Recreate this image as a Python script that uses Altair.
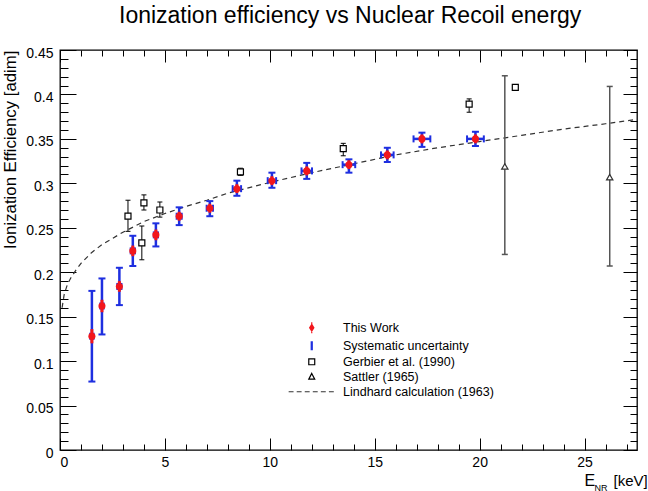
import altair as alt
import pandas as pd

# ---------------- data ----------------
# This Work
tw_energy = [1.52, 2.0, 2.83, 3.47, 4.57, 5.68, 7.14, 8.43, 10.1, 11.76, 13.77, 15.6, 17.25, 19.8]
tw_eff = [0.128, 0.162, 0.184, 0.224, 0.242, 0.263, 0.272, 0.294, 0.303, 0.314, 0.321, 0.332, 0.350, 0.350]
tw_sys_lo = [0.077, 0.130, 0.163, 0.207, 0.229, 0.253, 0.263, 0.286, 0.295, 0.305, 0.312, 0.324, 0.341, 0.342]
tw_sys_hi = [0.179, 0.193, 0.205, 0.241, 0.255, 0.273, 0.280, 0.303, 0.312, 0.323, 0.327, 0.340, 0.357, 0.358]
tw_e_err = [0.08, 0.08, 0.1, 0.1, 0.1, 0.12, 0.15, 0.2, 0.2, 0.25, 0.3, 0.3, 0.4, 0.4]
tw_stat_err = [0.008, 0.007, 0.006, 0.006, 0.006, 0.005, 0.005, 0.005, 0.005, 0.005, 0.005, 0.005, 0.005, 0.005]

# Gerbier et al. (1990)
g_energy = [3.24, 3.9, 4.0, 4.76, 8.6, 13.5, 19.5, 21.7]
g_eff = [0.263, 0.233, 0.278, 0.270, 0.313, 0.339, 0.389, 0.408]
g_lo = [0.246, 0.214, 0.270, 0.262, 0.309, 0.331, 0.380, 0.405]
g_hi = [0.281, 0.252, 0.287, 0.279, 0.317, 0.345, 0.395, 0.411]

# Sattler (1965)
s_energy = [21.2, 26.2]
s_eff = [0.319, 0.307]
s_lo = [0.220, 0.207]
s_hi = [0.421, 0.409]

# Lindhard calculation (1963)
l_energy = [0.1, 0.2, 0.35, 0.5, 0.75, 1.0, 1.5, 2.0, 2.5, 3.0, 4.0, 5.0, 6.0, 7.0, 8.0,
            10.0, 12.0, 14.0, 16.0, 18.0, 20.0, 22.0, 24.0, 26.0, 27.5]
l_eff = [0.160, 0.175, 0.186, 0.193, 0.202, 0.210, 0.222, 0.231, 0.238, 0.245, 0.257, 0.266,
         0.274, 0.281, 0.289, 0.301, 0.312, 0.322, 0.332, 0.340, 0.347, 0.354, 0.361, 0.367, 0.372]

legend_labels = ["This Work", "Systematic uncertainty", "Gerbier et al. (1990)",
                 "Sattler (1965)", "Lindhard calculation (1963)"]

x_major = [0, 5, 10, 15, 20, 25]
x_minor = [v for v in range(0, 28) if v % 5 != 0]
y_major = [0, 0.05, 0.1, 0.15, 0.2, 0.25, 0.3, 0.35, 0.4, 0.45]
y_minor = [round(i * 0.01, 2) for i in range(0, 46) if i % 5 != 0]

# ---------------- tables ----------------
tw = pd.DataFrame({
    "e": tw_energy, "eff": tw_eff, "lo": tw_sys_lo, "hi": tw_sys_hi,
    "elo": [a - b for a, b in zip(tw_energy, tw_e_err)],
    "ehi": [a + b for a, b in zip(tw_energy, tw_e_err)],
    "slo": [a - b for a, b in zip(tw_eff, tw_stat_err)],
    "shi": [a + b for a, b in zip(tw_eff, tw_stat_err)],
})
gb = pd.DataFrame({"e": g_energy, "eff": g_eff, "lo": g_lo, "hi": g_hi})
st = pd.DataFrame({"e": s_energy, "eff": s_eff, "lo": s_lo, "hi": s_hi})
ld = pd.DataFrame({"e": l_energy, "eff": l_eff})
lg = pd.DataFrame({"series": legend_labels, "x": [None] * 5, "y": [None] * 5})

FONT = "Liberation Sans"
RED = "#f2161c"
BLUE = "#1e2fe0"
W, H = 577, 400

xs = alt.Scale(domain=[0, 27.5], nice=False, zero=False)
ys = alt.Scale(domain=[0, 0.45], nice=False, zero=False)


def tick_axis(orient, values, size, offset, **kw):
    return alt.Axis(orient=orient, values=values, tickSize=size, offset=offset,
                    labels=False, domain=False, grid=False, tickColor="black",
                    tickWidth=1, **kw)


x_lab_axis = alt.Axis(orient="bottom", values=x_major, format="d", ticks=False, domain=False,
                      grid=False, labelFont=FONT, labelFontSize=14, labelColor="black",
                      labelPadding=5, title="E", titleFont=FONT, titleFontSize=16,
                      titleFontWeight="normal", titleColor="black", titleX=524, titleY=35,
                      titleAlign="left", titleBaseline="alphabetic")
y_lab_axis = alt.Axis(orient="left", values=y_major, format="~g", ticks=False, domain=False,
                      grid=False, labelFont=FONT, labelFontSize=14, labelColor="black",
                      labelPadding=7, labelOffset=3, title="Ionization Efficiency [adim]",
                      titleFont=FONT, titleFontSize=16.8, titleFontWeight="normal",
                      titleColor="black", titleX=-45, titleY=0, titleAngle=-90,
                      titleAlign="right", titleBaseline="alphabetic")

ax_b_major = tick_axis("bottom", x_major, 12, -12, title="NR", titleFont=FONT, titleFontSize=9,
                       titleFontWeight="normal", titleColor="black", titleX=534, titleY=52,
                       titleAlign="left", titleBaseline="alphabetic")
ax_b_minor = tick_axis("bottom", x_minor, 6, -6, title="[keV]", titleFont=FONT, titleFontSize=15,
                       titleFontWeight="normal", titleColor="black", titleX=553, titleY=41,
                       titleAlign="left", titleBaseline="alphabetic")
ax_t_major = tick_axis("top", x_major, 12, -12, title=None)
ax_t_minor = tick_axis("top", x_minor, 6, -6, title=None)
ax_l_major = tick_axis("left", y_major, 16, -16, title=None)
ax_l_minor = tick_axis("left", y_minor, 8, -8, title=None)
ax_r_major = tick_axis("right", y_major, 14, -14, title=None)
ax_r_minor = tick_axis("right", y_minor, 7, -7, title=None)

# Lindhard curve (hosts label axes)
lind = alt.Chart(ld).mark_line(strokeDash=[5, 4], color="#333333", strokeWidth=1.2).encode(
    x=alt.X("e:Q", scale=xs, axis=x_lab_axis),
    y=alt.Y("eff:Q", scale=ys, axis=y_lab_axis),
)

# This Work: systematic vertical bars
sys_v = alt.Chart(tw).mark_rule(color=BLUE, strokeWidth=2.5).encode(
    x=alt.X("e:Q", scale=xs, axis=ax_b_major),
    y=alt.Y("lo:Q", scale=ys, axis=ax_l_major),
    y2="hi:Q",
)
cap_top = alt.Chart(tw).mark_tick(orient="horizontal", size=7, thickness=2, color=BLUE, opacity=1).encode(
    x=alt.X("e:Q", scale=xs, axis=ax_b_minor),
    y=alt.Y("hi:Q", scale=ys, axis=ax_l_minor),
)
cap_bot = alt.Chart(tw).mark_tick(orient="horizontal", size=7, thickness=2, color=BLUE, opacity=1).encode(
    x=alt.X("e:Q", scale=xs, axis=ax_t_major),
    y=alt.Y("lo:Q", scale=ys, axis=ax_r_major),
)
sys_h = alt.Chart(tw).mark_rule(color=BLUE, strokeWidth=2.5).encode(
    x=alt.X("elo:Q", scale=xs, axis=ax_t_minor),
    x2="ehi:Q",
    y=alt.Y("eff:Q", scale=ys, axis=ax_r_minor),
)
cap_l = alt.Chart(tw).mark_tick(orient="vertical", size=7, thickness=2, color=BLUE, opacity=1).encode(
    x=alt.X("elo:Q", scale=xs, axis=None),
    y=alt.Y("eff:Q", scale=ys, axis=None),
)
cap_r = alt.Chart(tw).mark_tick(orient="vertical", size=7, thickness=2, color=BLUE, opacity=1).encode(
    x=alt.X("ehi:Q", scale=xs, axis=None),
    y=alt.Y("eff:Q", scale=ys, axis=None),
)
stat_v = alt.Chart(tw).mark_rule(color=RED, strokeWidth=3).encode(
    x=alt.X("e:Q", scale=xs, axis=None),
    y=alt.Y("slo:Q", scale=ys, axis=None),
    y2="shi:Q",
)
tw_pts = alt.Chart(tw).mark_point(shape="circle", filled=True, size=50, color=RED, opacity=1).encode(
    x=alt.X("e:Q", scale=xs, axis=None),
    y=alt.Y("eff:Q", scale=ys, axis=None),
)

# Gerbier
g_bar = alt.Chart(gb).mark_rule(color="black", strokeWidth=1).encode(
    x=alt.X("e:Q", scale=xs, axis=None), y=alt.Y("lo:Q", scale=ys, axis=None), y2="hi:Q")
g_cap1 = alt.Chart(gb).mark_tick(orient="horizontal", size=5, thickness=1, color="black", opacity=1).encode(
    x=alt.X("e:Q", scale=xs, axis=None), y=alt.Y("lo:Q", scale=ys, axis=None))
g_cap2 = alt.Chart(gb).mark_tick(orient="horizontal", size=5, thickness=1, color="black", opacity=1).encode(
    x=alt.X("e:Q", scale=xs, axis=None), y=alt.Y("hi:Q", scale=ys, axis=None))
g_pts = alt.Chart(gb).mark_point(shape="square", filled=True, size=36, fill="white", stroke="black",
                                 strokeWidth=1.2, opacity=1).encode(
    x=alt.X("e:Q", scale=xs, axis=None), y=alt.Y("eff:Q", scale=ys, axis=None))

# Sattler
s_bar = alt.Chart(st).mark_rule(color="#555555", strokeWidth=1.5).encode(
    x=alt.X("e:Q", scale=xs, axis=None), y=alt.Y("lo:Q", scale=ys, axis=None), y2="hi:Q")
s_cap1 = alt.Chart(st).mark_tick(orient="horizontal", size=6, thickness=1.5, color="#555555", opacity=1).encode(
    x=alt.X("e:Q", scale=xs, axis=None), y=alt.Y("lo:Q", scale=ys, axis=None))
s_cap2 = alt.Chart(st).mark_tick(orient="horizontal", size=6, thickness=1.5, color="#555555", opacity=1).encode(
    x=alt.X("e:Q", scale=xs, axis=None), y=alt.Y("hi:Q", scale=ys, axis=None))
s_pts = alt.Chart(st).mark_point(shape="triangle-up", filled=True, size=40, fill="white", stroke="#333333",
                                 strokeWidth=1.2, opacity=1).encode(
    x=alt.X("e:Q", scale=xs, axis=None), y=alt.Y("eff:Q", scale=ys, axis=None))

# Legend (library legend, symbols from a shape scale, stroked outlines only)
shapes = [
    "M0,-1.6V1.6M0,-0.95L0.6,0L0,0.95L-0.6,0ZM0,-0.6L0.35,0L0,0.6L-0.35,0ZM-0.15,0H0.15",
    "M-0.15,-1.3V1.3M0.15,-1.3V1.3",
    "M-0.85,-0.85H0.85V0.85H-0.85Z",
    "M0,-0.95L0.85,0.7H-0.85Z",
    "M-6.6,0H-5.2M-4.3,0H-2.9M-2.0,0H-0.6M0.3,0H1.7M2.6,0H4.0M4.9,0H6.3",
]
leg = alt.Legend(title=None, orient="none", legendX=245.5, legendY=271.5, padding=0,
                 symbolSize=49, symbolStrokeWidth=1.2, labelFont=FONT, labelFontSize=12.5,
                 labelColor="black", labelOffset=25, rowPadding=2, labelLimit=300)
legend_layer = alt.Chart(lg).mark_point(filled=False, opacity=1, strokeWidth=1.2).encode(
    x=alt.X("x:Q", scale=xs, axis=None),
    y=alt.Y("y:Q", scale=ys, axis=None),
    shape=alt.Shape("series:N", scale=alt.Scale(domain=legend_labels, range=shapes), legend=leg),
    stroke=alt.Stroke("series:N", scale=alt.Scale(domain=legend_labels,
                      range=[RED, BLUE, "black", "black", "#333333"]), legend=leg),
)

chart = alt.layer(
    lind, sys_v, cap_top, cap_bot, sys_h, cap_l, cap_r, stat_v, tw_pts,
    g_bar, g_cap1, g_cap2, g_pts, s_bar, s_cap1, s_cap2, s_pts, legend_layer,
).resolve_axis(x="independent", y="independent").properties(
    width=W, height=H,
    title=alt.TitleParams("Ionization efficiency vs Nuclear Recoil energy", font=FONT, fontSize=23,
                          fontWeight="normal", color="black", anchor="start", frame="group",
                          dx=59, offset=0, baseline="alphabetic"),
    autosize=alt.AutoSizeParams(type="none"),
    padding={"left": 60, "top": 50, "right": 11, "bottom": 41},
    background="white",
).configure_view(stroke="black", strokeWidth=1.3)

chart.save("out.html", embed_options={"renderer": "svg", "actions": False})
